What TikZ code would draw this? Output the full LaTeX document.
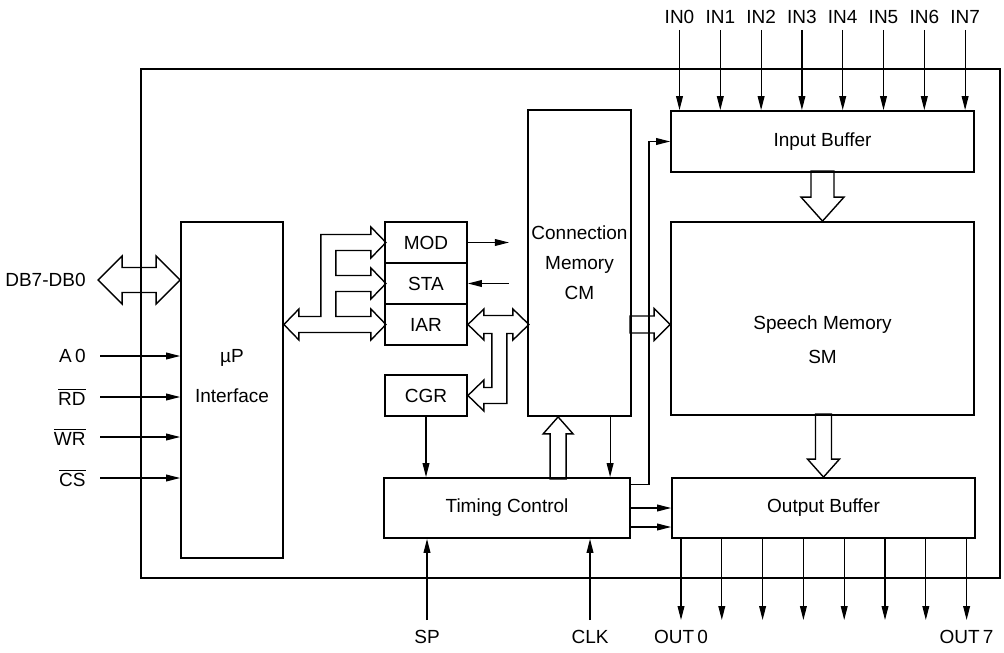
\documentclass[tikz,border=0pt]{standalone}
\usepackage{fontspec}
\setmainfont{Liberation Sans}
\usetikzlibrary{arrows.meta,calc,positioning}

\newcommand{\ovl}[1]{$\overline{\mbox{#1}}$}
% hollow bus arrows: tip, angle, length, shaft, head, head length
\newcommand{\fatarrow}[6]{%
  \draw[fat,shift={(#1)},rotate=#2] (0,0) -- (-#6,#5) -- (-#6,#4) -- (-#3,#4)
    -- (-#3,-#4) -- (-#6,-#4) -- (-#6,-#5) -- cycle;}
\newcommand{\fatdbl}[6]{%
  \draw[fat,shift={(#1)},rotate=#2] (0,0) -- (-#6,#5) -- (-#6,#4) -- ({-#3+#6},#4)
    -- ({-#3+#6},#5) -- (-#3,0) -- ({-#3+#6},-#5) -- ({-#3+#6},-#4) -- (-#6,-#4)
    -- (-#6,-#5) -- cycle;}

\tikzset{
  blk/.style={draw,line width=0.9pt,inner sep=0pt,font=\fontsize{9.5}{12}\selectfont},
  sig/.style={line width=0.6pt,-{Triangle[length=7pt,width=3.4pt]}},
  wire/.style={line width=0.6pt},
  fat/.style={line width=0.7pt,line join=miter},
  lbl/.style={inner sep=1pt,font=\fontsize{9.5}{12}\selectfont}
}

\begin{document}
\begin{tikzpicture}[x=0.5pt,y=-0.5pt]
  \useasboundingbox (0,0) rectangle (1004,652);
  % chip outline
  \draw[line width=1.4pt] (141,69) rectangle (1000,578);

  % blocks
  \node[blk,minimum width=51pt,minimum height=168pt] (mup) at (232,390) {};
  \node[lbl,align=center,font=\fontsize{9.5}{20}\selectfont] at (232,376) {µP\\Interface};
  \node[blk,minimum width=41pt,minimum height=20.5pt] (mod) at (426,242.5) {MOD};
  \node[blk,minimum width=41pt,minimum height=20.5pt] (sta) at (426,283.5) {STA};
  \node[blk,minimum width=41pt,minimum height=20.5pt] (iar) at (426,324.5) {IAR};
  \node[blk,minimum width=41pt,minimum height=20.5pt] (cgr) at (426,395.5) {CGR};
  \node[blk,minimum width=51.5pt,minimum height=153pt,align=center,
        font=\fontsize{9.5}{15}\selectfont] (cm) at (579.5,263) {Connection\\Memory\\CM};
  \node[blk,minimum width=151.5pt,minimum height=30.5pt] (ib) at (822.5,141.5) {Input Buffer};
  \node[blk,minimum width=151.5pt,minimum height=96.5pt] (sm) at (822.5,318.5) {};
  \node[lbl,align=center,font=\fontsize{9.5}{17}\selectfont] at (822.5,340) {Speech Memory\\SM};
  \node[blk,minimum width=151.5pt,minimum height=30pt] (ob) at (823.5,508) {Output Buffer};
  \node[blk,minimum width=123pt,minimum height=30pt] (tc) at (507,508) {Timing Control};

  % data bus
  \fatdbl{mup.west |- 0,280}{0}{82}{12.5}{24}{24}
  \node[lbl,anchor=east] (db) at (88,280) {DB7-DB0};
  \begin{scope}[shift={(mup.east |- iar)}]
    \draw[fat] (0,0) -- (15,-15.5) -- (15,-8) -- (37,-8) -- (37,-90) -- (87,-90)
      -- (87,-97.5) -- (102,-82) -- (87,-66.5) -- (87,-74) -- (52,-74) -- (52,-49)
      -- (87,-49) -- (87,-56.5) -- (102,-41) -- (87,-25.5) -- (87,-33) -- (52,-33)
      -- (52,-8) -- (87,-8) -- (87,-15.5) -- (102,0) -- (87,15.5) -- (87,8)
      -- (15,8) -- (15,15.5) -- cycle;
  \end{scope}
  \begin{scope}[shift={(iar.east)}]
    \draw[fat] (0,0) -- (16,-15.5) -- (16,-9) -- (45,-9) -- (45,-15.5) -- (61,0)
      -- (45,15.5) -- (45,9) -- (39,9) -- (39,79) -- (16,79) -- (16,86.5) -- (0,71)
      -- (16,55.5) -- (16,63) -- (24,63) -- (24,9) -- (16,9) -- (16,15.5) -- cycle;
  \end{scope}
  \fatarrow{sm.west |- iar}{0}{40}{8.5}{16}{16}
  \fatarrow{$(cm.south west)+(31,0)$}{90}{62}{8}{15}{17}
  \fatarrow{sm.north}{-90}{50}{11.5}{21.5}{24}
  \fatarrow{ob.north}{-90}{63}{8}{16}{18}

  % control inputs
  \foreach \y/\n/\t in {356/a0/A\,0, 397/rd/\ovl{RD}, 437/wr/\ovl{WR}, 478/cs/\ovl{CS}} {
    \coordinate (\n) at (100,\y);
    \node[lbl,left=6pt] at (\n) {\t};
    \draw[sig] (\n) -- (\n -| mup.west);
  }

  % speech inputs and outputs
  \foreach \i in {0,...,7} {
    \coordinate (in\i) at ({679.5+40.8*\i},30);
    \node[lbl,above=2pt] at (in\i) {IN\i};
    \draw[sig] (in\i) -- (in\i |- ib.north);
    \coordinate (out\i) at ({681+40.8*\i},620);
    \draw[sig] (out\i |- ob.south) -- (out\i);
  }
  \node[lbl,below=4pt] at (out0) {OUT\,0};
  \node[lbl,below=4pt] at (out7) {OUT\,7};

  % register lines
  \coordinate (modout) at ($(mod.east)+(41,0)$);
  \coordinate (stain) at ($(sta.east)+(41,0)$);
  \draw[sig] (mod.east) -- (modout);
  \draw[sig] (stain) -- (sta.east);

  % timing
  \coordinate (cmdn) at ($(cm.south west)+(83,0)$);
  \coordinate (tcib) at ($(tc.north east)+(0,7)$);
  \coordinate (tcob) at ($(tc.east)+(0,19)$);
  \coordinate (sp) at (427,620);
  \coordinate (clk) at (590,620);
  \draw[sig] (cgr.south) -- (cgr.south |- tc.north);
  \draw[sig] (cmdn) -- (cmdn |- tc.north);
  \draw[sig] (sp) -- (sp |- tc.south);
  \draw[sig] (clk) -- (clk |- tc.south);
  \node[lbl,below=4pt] at (sp) {SP};
  \node[lbl,below=4pt] at (clk) {CLK};
  \draw[sig] (tcib) -- ++(18,0) |- (ib.west);
  \draw[sig] (tc.east) -- (tc.east -| ob.west);
  \draw[sig] (tcob) -- (tcob -| ob.west);
\end{tikzpicture}
\end{document}
